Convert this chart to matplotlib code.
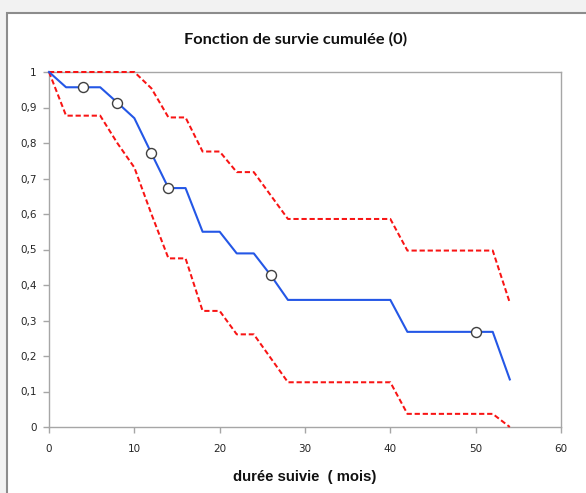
import matplotlib
matplotlib.use("Agg")
import matplotlib.pyplot as plt
from matplotlib.patches import Rectangle
from matplotlib.ticker import FuncFormatter

# Data
t_surv = [0, 2, 4, 6, 8, 10, 12, 14, 16, 18, 20, 22, 24, 26, 28, 40, 42, 50, 52, 54]
surv = [1.0, 0.957, 0.957, 0.957, 0.914, 0.870, 0.771, 0.673, 0.673, 0.550, 0.550,
        0.489, 0.489, 0.427, 0.358, 0.358, 0.268, 0.268, 0.268, 0.134]
t_marks = [4, 8, 12, 14, 26, 50]
surv_marks = [0.957, 0.914, 0.771, 0.673, 0.427, 0.268]
t_up = [0, 10, 12, 14, 16, 18, 20, 22, 24, 26, 28, 40, 42, 52, 54]
upper = [1.0, 1.0, 0.954, 0.872, 0.872, 0.776, 0.776, 0.718, 0.718, 0.652, 0.586,
         0.586, 0.497, 0.497, 0.350]
t_lo = [0, 2, 6, 8, 10, 12, 14, 16, 18, 20, 22, 24, 28, 40, 42, 52, 54]
lower = [1.0, 0.877, 0.877, 0.800, 0.731, 0.600, 0.475, 0.475, 0.327, 0.327, 0.261,
         0.261, 0.126, 0.126, 0.037, 0.037, 0.0]
x_ticks = [0, 10, 20, 30, 40, 50, 60]
y_ticks = [0, 0.1, 0.2, 0.3, 0.4, 0.5, 0.6, 0.7, 0.8, 0.9, 1.0]
title = "Fonction de survie cumulée (0)"
xlabel = "durée suivie  ( mois)"

W, H = 586, 493
fig = plt.figure(figsize=(W / 100, H / 100), dpi=100)
fig.patch.set_facecolor("#f2f2f2")
# chart area with border
bg = Rectangle((7 / W, -0.05), 1.1, 1 - 13 / H + 0.05,
               transform=fig.transFigure, facecolor="white",
               edgecolor="#8c8c8c", linewidth=1.5, zorder=-10)
fig.patches.append(bg)

ax = fig.add_axes([49 / W, 1 - 427 / H, (561 - 49) / W, (427 - 72) / H])
ax.set_facecolor("white")

red = "#f81414"
ax.plot(t_up, upper, color=red, linestyle=(0, (2.6, 1.4)), linewidth=1.45, zorder=4,
        clip_on=False)
ax.plot(t_lo, lower, color=red, linestyle=(0, (2.6, 1.4)), linewidth=1.45, zorder=4,
        clip_on=False)
ax.plot(t_surv, surv, color="#2457e6", linewidth=1.5, zorder=5, clip_on=False)
ax.plot(t_marks, surv_marks, linestyle="none", marker="o", markersize=7.2,
        markerfacecolor="white", markeredgecolor="#404040", markeredgewidth=1.0, zorder=6)

ax.set_xlim(0, 60)
ax.set_ylim(0, 1)
ax.set_xticks(x_ticks)
ax.set_yticks(y_ticks)
ax.yaxis.set_major_formatter(FuncFormatter(lambda v, p: ("%g" % round(v, 1)).replace(".", ",")))
for s in ax.spines.values():
    s.set_color("#a6a6a6")
    s.set_linewidth(1.0)
ax.tick_params(direction="out", length=4, width=1, color="#a6a6a6",
               labelsize=7.5, labelcolor="#262626", pad=5)
ax.tick_params(axis="x", pad=8.5)
for lab in ax.get_xticklabels() + ax.get_yticklabels():
    lab.set_family("DejaVu Sans")

fig.text(296 / W, 1 - 39 / H, title, ha="center", va="center",
         fontsize=11.8, fontweight="bold", family="Lato", color="#111111")
fig.text(305 / W, 1 - 477 / H, xlabel, ha="center", va="center",
         fontsize=10.7, fontweight="bold", family="Liberation Sans", color="#111111")

fig.savefig("out.png", dpi=100, facecolor=fig.get_facecolor())
